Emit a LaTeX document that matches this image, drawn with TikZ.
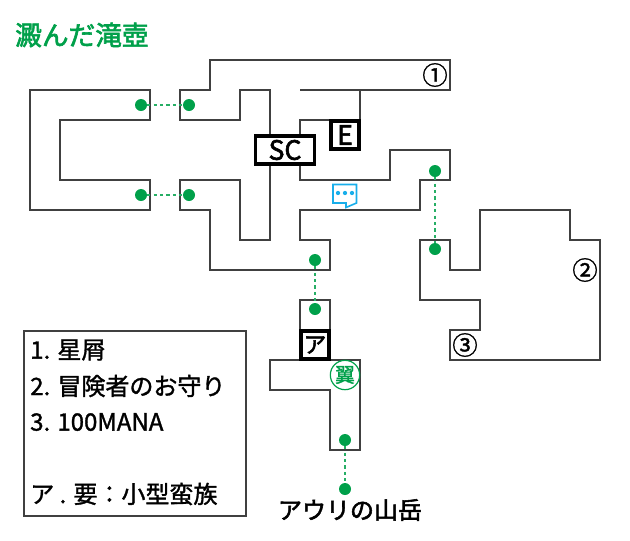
\documentclass[tikz,border=0pt]{standalone}
\usepackage{fontspec}
\setmainfont{Noto Sans CJK JP}
\newfontfamily\medfont[FakeBold=1.4]{Noto Sans CJK JP}
\newfontfamily\heavyfont[FakeBold=2.2]{Noto Sans CJK JP}
\usepackage{tikz}
\definecolor{wallgray}{HTML}{404040}
\definecolor{mapgreen}{HTML}{00A04A}
\definecolor{chatblue}{HTML}{18AEEA}
\tikzset{
    wall/.style={draw=wallgray, line width=1.7pt, line join=miter},
    markbox/.style={rectangle, draw=black, line width=2.7pt, fill=white, inner sep=0pt, font=\heavyfont\fontsize{20}{20}\selectfont},
    warpdot/.style={circle, fill=mapgreen, minimum size=9pt, inner sep=0pt},
    warpline/.style={draw=mapgreen!85, line width=1.6pt, dash pattern=on 2.4pt off 2.4pt},
    itemmark/.style={inner sep=0pt, font=\medfont\fontsize{19}{19}\selectfont},
    legendtext/.style={anchor=west, inner sep=0pt, font=\medfont\fontsize{18}{18}\selectfont}
}
\begin{document}
\begin{tikzpicture}[x=0.75pt, y=-0.75pt]
    \useasboundingbox (0,0) rectangle (630,540);

    % Title
    \node[anchor=west, inner sep=0pt, text=mapgreen, font=\heavyfont\fontsize{20}{20}\selectfont] (title) at (15,35) {澱んだ滝壺};

    % West room
    \draw[wall] (30,90) -- (150,90) -- (150,120) -- (60,120) -- (60,180) -- (150,180) -- (150,210) -- (30,210) -- cycle;

    % Central rooms
    \draw[wall] (300,90) -- (450,90) -- (450,60) -- (210,60) -- (210,90) -- (180,90) -- (180,120) -- (240,120) -- (240,90) -- (270,90) -- (270,240) -- (240,240) -- (240,180) -- (180,180) -- (180,210) -- (210,210) -- (210,270) -- (330,270) -- (330,240) -- (300,240) -- (300,210) -- (420,210) -- (420,180) -- (450,180) -- (450,150) -- (390,150) -- (390,180) -- (300,180) -- (300,120) -- (360,120) -- (360,90);

    % East room
    \draw[wall] (420,240) -- (450,240) -- (450,270) -- (480,270) -- (480,210) -- (570,210) -- (570,240) -- (600,240) -- (600,360) -- (450,360) -- (450,330) -- (480,330) -- (480,300) -- (420,300) -- cycle;

    % South rooms
    \draw[wall] (300,330) -- (300,300) -- (330,300) -- (330,330);
    \draw[wall] (270,360) -- (360,360) -- (360,450) -- (330,450) -- (330,390) -- (270,390) -- cycle;

    % Marked boxes
    \node[markbox, minimum width=44pt, minimum height=21pt] (sc_box) at (285,150) {SC};
    \node[markbox, minimum width=21pt, minimum height=21pt] (e_box) at (345,135) {E};
    \node[markbox, minimum width=21pt, minimum height=21pt, font=\heavyfont\fontsize{17}{17}\selectfont] (a_box) at (315,345) {ア};

    % Warp dots
    \node[warpdot] (west_top) at (141,105) {};
    \node[warpdot] (mid_top) at (189,105) {};
    \node[warpdot] (west_bottom) at (141,195) {};
    \node[warpdot] (mid_bottom) at (189,195) {};
    \node[warpdot] (centre_exit) at (315,260) {};
    \node[warpdot] (south_entry) at (315,309) {};
    \node[warpdot] (north_exit) at (435,171) {};
    \node[warpdot] (east_entry) at (435,249) {};
    \node[warpdot] (south_exit) at (345,440) {};
    \node[warpdot] (mountain) at (345,489) {};

    % Warp lines
    \draw[warpline] (west_top) -- (mid_top);
    \draw[warpline] (west_bottom) -- (mid_bottom);
    \draw[warpline] (centre_exit) -- (south_entry);
    \draw[warpline] (north_exit) -- (east_entry);
    \draw[warpline] (south_exit) -- (mountain);

    % Item marks
    \node[itemmark] (item_one) at (435,75) {①};
    \node[itemmark] (item_two) at (585,270) {②};
    \node[itemmark] (item_three) at (465,345) {③};

    % Wing mark
    \node[circle, draw=mapgreen, line width=0.9pt, fill=white, text=mapgreen, minimum size=22pt, inner sep=0pt, font=\medfont\fontsize{15}{15}\selectfont] (wing) at (345,375) {翼};

    % Chat icon
    \draw[chatblue, line width=1.2pt, fill=white, line join=miter] (333,184.5) -- (356.5,184.5) -- (356.5,203) -- (346,207.5) -- (346,203) -- (333,203) -- cycle;
    \foreach \dotx in {338,345,352}
        \fill[chatblue] (\dotx,193) circle (1.6pt);

    % Legend
    \node[draw=wallgray, line width=1.5pt, minimum width=166.5pt, minimum height=138.75pt, inner sep=0pt] (legend) at (135,423.5) {};
    \node[legendtext] (legend_one) at (30,350) {1. 星屑};
    \node[legendtext] (legend_two) at (30,386) {2. 冒険者のお守り};
    \node[legendtext] (legend_three) at (30,422) {3. 100MANA};
    \node[legendtext] (legend_key) at (30,494) {ア . 要：小型蛮族};

    % Exit label
    \node[inner sep=0pt, font=\heavyfont\fontsize{18}{18}\selectfont] (mountain_label) at (350,510) {アウリの山岳};
\end{tikzpicture}
\end{document}
